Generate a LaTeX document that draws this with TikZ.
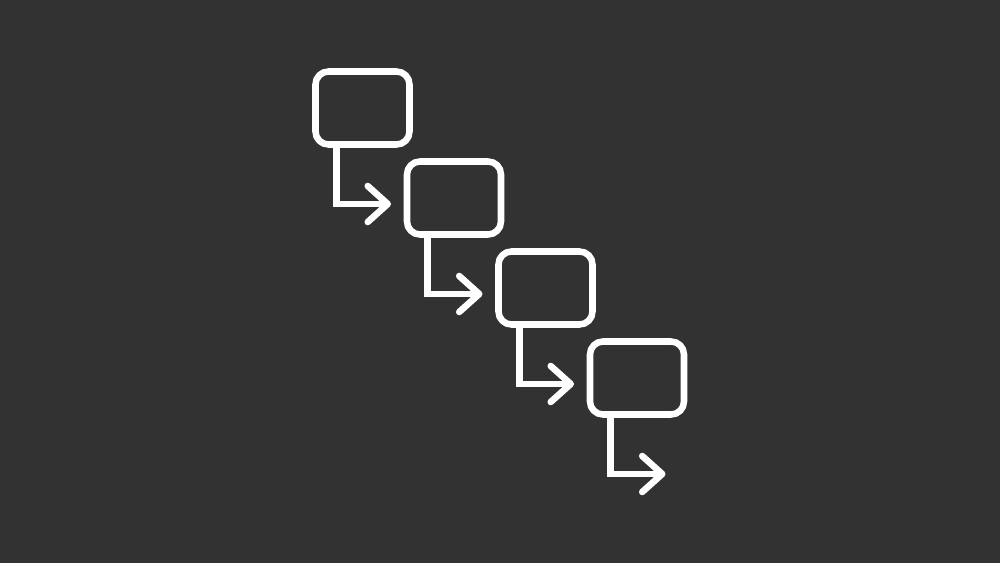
\documentclass[tikz,border=0pt]{standalone}
\usetikzlibrary{arrows.meta}
\definecolor{bgdark}{RGB}{51,50,50}
\tikzset{
  stepbox/.style={draw=white, line width=4.9pt, rounded corners=9.75pt, rectangle,
    minimum width=70.5pt, minimum height=54.75pt, inner sep=0pt},
  flowline/.style={draw=white, line width=4.9pt,
    -{Straight Barb[length=15pt, width=27pt, line cap=round, line join=round]}}
}
\begin{document}
\begin{tikzpicture}[x=0.75pt, y=-0.75pt]
\useasboundingbox[fill=bgdark] (0,0) rectangle (1000,563);
\node[stepbox] (b1) at (362.5,108) {};
\node[stepbox] (b2) at (454,198) {};
\node[stepbox] (b3) at (545.5,288) {};
\node[stepbox] (b4) at (637,378) {};
\coordinate (t1) at (391,204);
\coordinate (t2) at (482.5,294);
\coordinate (t3) at (574,384);
\coordinate (t4) at (665.5,474);
\draw[flowline] ([xshift=18pt]b1.south west) |- (t1);
\draw[flowline] ([xshift=18pt]b2.south west) |- (t2);
\draw[flowline] ([xshift=18pt]b3.south west) |- (t3);
\draw[flowline] ([xshift=18pt]b4.south west) |- (t4);
\end{tikzpicture}
\end{document}
